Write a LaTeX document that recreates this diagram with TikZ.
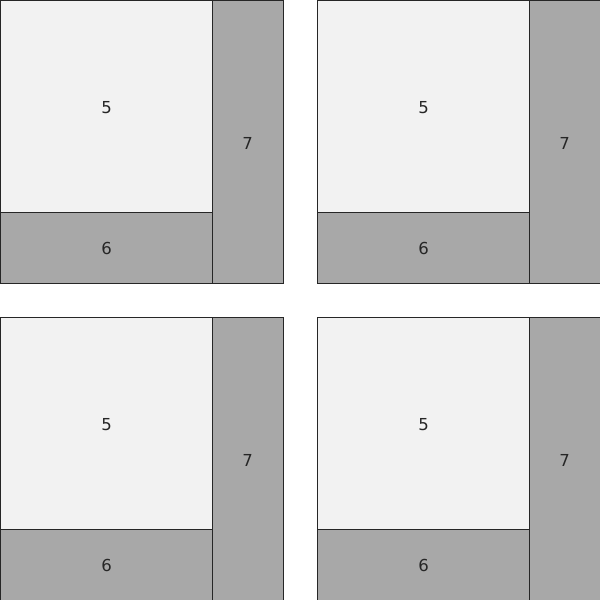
\documentclass[tikz,border=0pt]{standalone}
\usepackage{fontspec}
\setmainfont{DejaVu Sans}
\begin{document}
\begin{tikzpicture}[x=1pt,y=-1pt,
  light/.style={draw=black!85,line width=0.9pt,fill=lightfill},
  dark/.style={draw=black!85,line width=0.9pt,fill=darkfill},
  lbl/.style={font=\fontsize{16.5}{18}\selectfont,text=black!85}]
\definecolor{lightfill}{HTML}{F2F2F2}
\definecolor{darkfill}{HTML}{A8A8A8}
\useasboundingbox (0,0) rectangle (600,600);
\clip (0,0) rectangle (600,600);
\foreach \ox/\oy/\n in {0/0/a,317/0/b,0/317/c,317/317/d}{
  \begin{scope}[shift={(\ox,\oy)}]
    \draw[light] (0,0) rectangle (212,212);
    \draw[dark] (0,212) rectangle (212,283);
    \draw[dark] (212,0) rectangle (283,283);
    \node[lbl] (five-\n) at (106.5,107.5) {5};
    \node[lbl] (six-\n) at (106.5,248.5) {6};
    \node[lbl] (seven-\n) at (247.5,143) {7};
  \end{scope}
}
\end{tikzpicture}
\end{document}
